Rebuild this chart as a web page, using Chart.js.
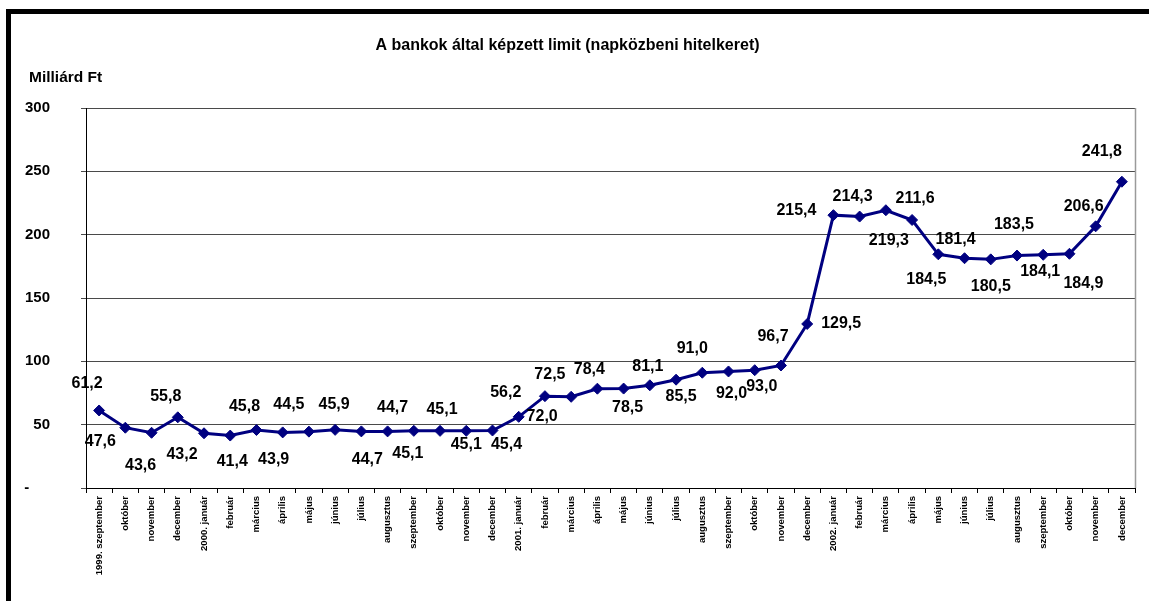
<!DOCTYPE html>
<html>
<head>
<meta charset="utf-8">
<script src="https://cdn.jsdelivr.net/npm/chart.js@4.4.1/dist/chart.umd.min.js"></script>
<style>
  html, body { margin: 0; padding: 0; background: #fff; overflow: hidden; }
  #frame { position: absolute; left: 6px; top: 9px; width: 1200px; height: 650px;
           border-left: 5px solid #000; border-top: 5px solid #000; }
  #wrap { position: absolute; left: 0; top: 0; width: 1149px; height: 601px; }
</style>
</head>
<body>
<div id="frame"></div>
<div id="wrap"><canvas id="myChart"></canvas></div>
<script>
var FONT = "'Liberation Sans', Arial, sans-serif";

var months = ["1999. szeptember", "október", "november", "december",
  "2000. január", "február", "március", "április", "május", "június", "július",
  "augusztus", "szeptember", "október", "november", "december",
  "2001. január", "február", "március", "április", "május", "június", "július",
  "augusztus", "szeptember", "október", "november", "december",
  "2002. január", "február", "március", "április", "május", "június", "július",
  "augusztus", "szeptember", "október", "november", "december"];

var limit = [61.2, 47.6, 43.6, 55.8,
  43.2, 41.4, 45.8, 43.9, 44.5, 45.9, 44.7, 44.7, 45.1, 45.1, 45.1, 45.4,
  56.2, 72.5, 72.0, 78.4, 78.5, 81.1, 85.5, 91.0, 92.0, 93.0, 96.7, 129.5,
  215.4, 214.3, 219.3, 211.6, 184.5, 181.4, 180.5, 183.5, 184.1, 184.9, 206.6, 241.8];

var yTicks = [0, 50, 100, 150, 200, 250, 300];

// where each value label sits relative to its marker (style only)
var labelShift = [[-12,-27],[-25,14],[-11,33],[-12,-21],[-22,21],[2,26],[-12,-23],[-9,27],
  [-20,-27],[-1,-25],[6,28],[5,-24],[-6,23],[2,-21],[0,14],[14,14],
  [-13,-24],[5,-22],[-29,20],[-8,-19],[4,19],[-2,-19],[5,17],[-10,-24],[3,22],[7,16],[-8,-29],[34,0],
  [-37,-5],[-7,-20],[3,30],[3,-21],[-12,25],[-9,-19],[0,27],[-3,-31],[-3,17],[14,30],[-12,-20],[-20,-30]];

function huNum(v) { return v.toFixed(1).replace(".", ","); }

var extras = {
  id: "extras",
  afterDraw: function (chart) {
    var ctx = chart.ctx, a = chart.chartArea;
    ctx.save();
    // right edge of plot area
    ctx.strokeStyle = "#9a9a9a";
    ctx.lineWidth = 1.5;
    ctx.beginPath();
    ctx.moveTo(a.right + 0.5, a.top);
    ctx.lineTo(a.right + 0.5, a.bottom);
    ctx.stroke();
    // unit label
    ctx.fillStyle = "#000";
    ctx.font = "bold 15.5px " + FONT;
    ctx.textAlign = "left";
    ctx.textBaseline = "middle";
    ctx.fillText("Milliárd Ft", 29, 78);
    // value labels
    var meta = chart.getDatasetMeta(0);
    ctx.font = "bold 16px " + FONT;
    ctx.textAlign = "center";
    meta.data.forEach(function (pt, i) {
      var s = labelShift[i];
      ctx.fillText(huNum(limit[i]), pt.x + s[0], pt.y + s[1]);
    });
    ctx.restore();
  }
};

new Chart(document.getElementById("myChart"), {
  type: "line",
  data: {
    labels: months,
    datasets: [
      {
        label: "Limit",
        data: limit,
        borderColor: "#000080",
        borderWidth: 3,
        backgroundColor: "#000080",
        pointStyle: "rectRot",
        pointRadius: 5.5,
        pointBorderWidth: 1,
        pointBackgroundColor: "#000080",
        pointBorderColor: "#000080",
        tension: 0
      }
    ]
  },
  options: {
    responsive: true,
    maintainAspectRatio: false,
    animation: false,
    layout: { padding: { left: 0, right: 14, top: 0, bottom: 0 } },
    plugins: {
      legend: { display: false },
      tooltip: { enabled: false },
      title: {
        display: true,
        text: "A bankok által képzett limit (napközbeni hitelkeret)",
        color: "#000",
        font: { family: FONT, size: 16, weight: "bold" },
        padding: { top: 36, bottom: 52.8 }
      }
    },
    scales: {
      x: {
        offset: true,
        afterFit: function (s) { s.height = 113; },
        grid: { offset: true, drawOnChartArea: false, drawTicks: true, tickLength: 5, color: "#000" },
        border: { display: true, color: "#000", width: 1 },
        ticks: {
          autoSkip: false,
          minRotation: 90,
          maxRotation: 90,
          padding: 3,
          color: "#000",
          font: { family: FONT, size: 9.5, weight: "bold" }
        }
      },
      y: {
        min: 0,
        max: 300,
        afterFit: function (s) { s.width = 86; },
        afterBuildTicks: function (s) { s.ticks = yTicks.map(function (v) { return { value: v }; }); },
        grid: { color: "#4a4a4a", tickLength: 5, drawTicks: true },
        border: { display: true, color: "#000", width: 1 },
        ticks: {
          padding: 31,
          color: "#000",
          font: { family: FONT, size: 15, weight: "bold" },
          callback: function (v) { return v === 0 ? "-\u00a0\u00a0\u00a0\u00a0\u00a0" : String(v); }
        }
      }
    }
  },
  plugins: [extras]
});
</script>
</body>
</html>
